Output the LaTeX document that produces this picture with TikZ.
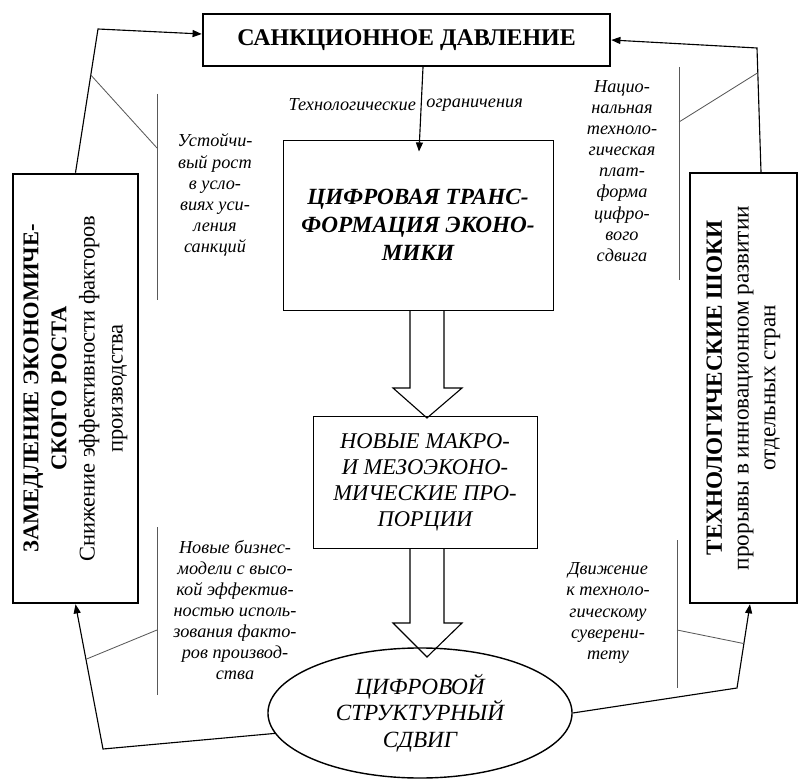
\documentclass[tikz,border=0pt]{standalone}
\usepackage{fontspec}
\setmainfont{Liberation Serif}
\usetikzlibrary{arrows.meta,calc,shapes.geometric}

\tikzset{
  bigbox/.style={draw,line width=1.6pt,inner sep=0pt,align=center},
  midbox/.style={draw,line width=0.6pt,inner sep=0pt,align=center},
  conn/.style={line width=0.8pt},
  arr/.style={conn,-{Triangle[length=6.5pt,width=5pt]}},
  callout/.style={line width=0.6pt,black!65},
  note/.style={align=center,font=\fontsize{13}{15}\selectfont\itshape},
}

\begin{document}
\begin{tikzpicture}[x=0.025cm,y=-0.025cm]
\useasboundingbox (0,0) rectangle (798,782);

% blocks
\node[bigbox,minimum width=10.18cm,minimum height=1.3cm,
      font=\fontsize{17}{20}\selectfont\bfseries] (sank) at (406.5,40)
      {САНКЦИОННОЕ ДАВЛЕНИЕ};
\node[midbox,minimum width=6.75cm,minimum height=4.25cm,
      font=\fontsize{16.5}{20}\selectfont\bfseries\itshape] (cifr) at (418,225)
      {ЦИФРОВАЯ ТРАНС-\\ФОРМАЦИЯ ЭКОНО-\\МИКИ};
\node[midbox,minimum width=5.6cm,minimum height=3.3cm,
      font=\fontsize{16}{18.5}\selectfont\itshape] (novye) at (425,482)
      {НОВЫЕ МАКРО-\\И МЕЗОЭКОНО-\\МИЧЕСКИЕ ПРО-\\ПОРЦИИ};
\node[ellipse,draw,line width=1pt,inner sep=0pt,minimum width=7.6cm,minimum height=3.25cm,
      align=center,font=\fontsize{16.5}{19}\selectfont\itshape] (sdvig) at (420,713)
      {ЦИФРОВОЙ\\СТРУКТУРНЫЙ\\СДВИГ};

% side blocks are turned: .east is the top, .west the bottom
\node[bigbox,rotate=90,minimum width=10.73cm,minimum height=3.13cm,
      font=\fontsize{16}{20}\selectfont] (zamed) at (75.5,388.5)
      {\textbf{ЗАМЕДЛЕНИЕ ЭКОНОМИЧЕ-}\\\textbf{СКОГО РОСТА}\\
       Снижение эффективности факторов\\производства};
\node[bigbox,rotate=90,minimum width=10.75cm,minimum height=2.68cm,
      font=\fontsize{16.5}{19}\selectfont] (shoki) at (743.5,388)
      {\textbf{ТЕХНОЛОГИЧЕСКИЕ ШОКИ}\\прорывы в инновационном развитии\\
       отдельных стран};

% corners of the loop
\coordinate (kA) at (98,29);
\coordinate (kB) at (757,48);
\coordinate (kC) at (103,749);
\coordinate (kD) at (737,688);
\coordinate (sB) at (761,0 |- shoki.east);
\coordinate (eD) at (750,0 |- shoki.west);

\draw[arr] (zamed.east) -- (kA) -- (sank.west |- 0,34);
\draw[arr] (sB) -- (kB) -- (sank.east);
\draw[arr] (sdvig.188) -- (kC) -- (zamed.west);
\draw[arr] (sdvig.east) -- (kD) -- (eD);

\draw[arr] (423,0 |- sank.south) --
      node[pos=0.45,left,note]{Технологические}
      node[pos=0.45,right,note]{ограничения}
      ($(cifr.north)+(1,12)$);

% hollow arrows
\draw[conn] (410,0 |- cifr.south) -- (410,388) -- (393,388) -- (427,418)
            -- (462,388) -- (444,388) -- (444,0 |- cifr.south);
\draw[conn] (410,0 |- novye.south) -- (410,623) -- (393,623) -- (427,657)
            -- (462,623) -- (444,623) -- (444,0 |- novye.south);

% callouts
\draw[callout] (157,94) -- (157,300);
\draw[callout] ($(zamed.east)!0.68!(kA)$) -- (157,148);
\draw[callout] (679,67) -- (679,280);
\draw[callout] ($(sB)!0.8!(kB)$) -- (679,122);
\draw[callout] (157,527) -- (157,695);
\draw[callout] (157,630) -- ($(kC)!0.62!(zamed.west)$);
\draw[callout] (677,540) -- (677,688);
\draw[callout] (677,630) -- ($(kD)!0.53!(eD)$);

\node[note] (ustoi) at (215,195)
      {Устойчи-\\вый рост\\в усло-\\виях уси-\\ления\\санкций};
\node[note] (nacio) at (622,171)
      {Нацио-\\нальная\\техноло-\\гическая\\плат-\\форма\\цифро-\\вого\\сдвига};
\node[note] (biznes) at (235,610)
      {Новые бизнес-\\модели с высо-\\кой эффектив-\\ностью исполь-\\зования факто-\\ров производ-\\ства};
\node[note] (dvizh) at (608,613)
      {Движение\\к техноло-\\гическому\\суверени-\\тету};

\end{tikzpicture}
\end{document}
